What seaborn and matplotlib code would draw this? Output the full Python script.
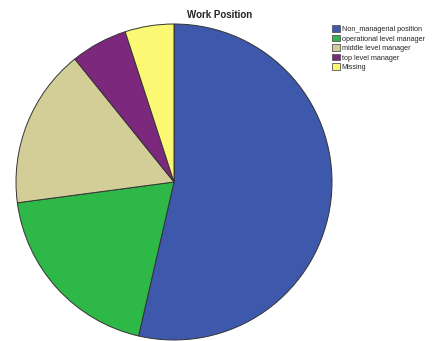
import matplotlib
matplotlib.use("Agg")
import matplotlib.pyplot as plt
from matplotlib.patches import Patch
import seaborn as sns

categories = ["Non_managerial position", "operational level manager",
              "middle level manager", "top level manager", "Missing"]
percent = [53.6, 19.3, 16.3, 5.8, 5.0]
colors = ["#3E58AC", "#2EB848", "#D3CE97", "#7C287D", "#FBF873"]

sns.set_theme(style="white")
plt.rcParams["font.family"] = ["Liberation Sans", "DejaVu Sans"]
palette = sns.color_palette(colors)

fig = plt.figure(figsize=(4.33, 3.41), dpi=100)
ax = fig.add_axes([16 / 433, 1 / 341, 316 / 433, 316 / 341])
ax.pie(percent, colors=palette, startangle=90, counterclock=False,
       radius=1.0, wedgeprops=dict(edgecolor="#333333", linewidth=0.7))
ax.set_xlim(-1.0, 1.0)
ax.set_ylim(-1.0, 1.0)
ax.set_aspect("equal")
ax.axis("off")

fig.text(220 / 433, 1 - 15 / 341, "Work Position", ha="center", va="center",
         fontsize=7, fontweight="bold", color="#222222")

handles = [Patch(facecolor=c, edgecolor="#555555", linewidth=0.6) for c in palette]
fig.legend(handles, categories, loc="upper left",
           bbox_to_anchor=(331 / 433, 1 - 24 / 341), frameon=False,
           fontsize=5.2, handlelength=1.0, handleheight=1.0,
           handletextpad=0.3, labelspacing=0.25, borderpad=0.2,
           borderaxespad=0)

fig.savefig("out.png", dpi=100)
